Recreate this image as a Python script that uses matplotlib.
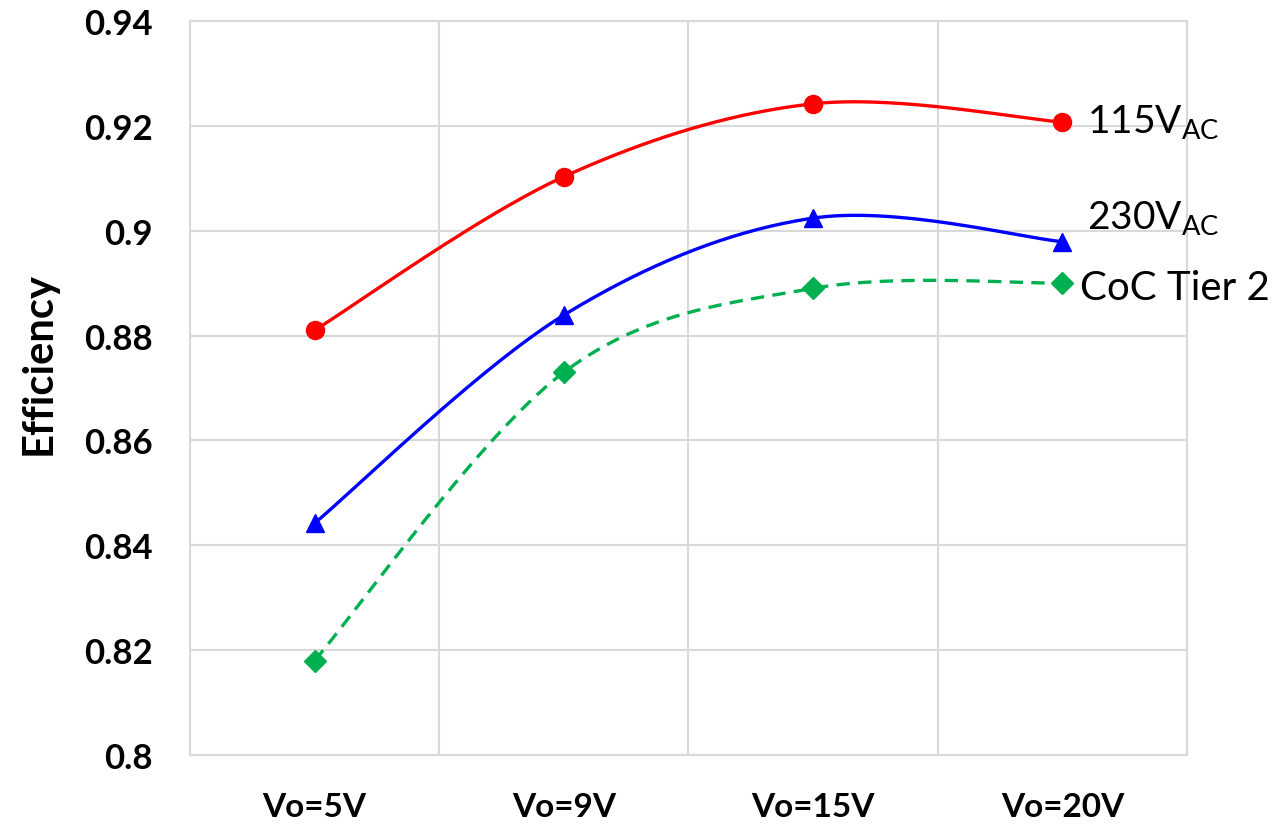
import numpy as np
import matplotlib
matplotlib.use('Agg')
import matplotlib.pyplot as plt

plt.rcParams['font.family'] = ['Lato', 'DejaVu Sans']
plt.rcParams['mathtext.fontset'] = 'custom'
plt.rcParams['mathtext.rm'] = 'Lato'

categories = ['Vo=5V', 'Vo=9V', 'Vo=15V', 'Vo=20V']
eff_115 = [0.881, 0.9103, 0.9242, 0.9207]
eff_230 = [0.8442, 0.8839, 0.9024, 0.8979]
coc_tier2 = [0.818, 0.873, 0.889, 0.890]
yticks = [0.8, 0.82, 0.84, 0.86, 0.88, 0.9, 0.92, 0.94]
ytick_labels = ['0.8', '0.82', '0.84', '0.86', '0.88', '0.9', '0.92', '0.94']


def smooth(xs, ys, n=60):
    # excel-like smoothed line (catmull-rom as cubic bezier)
    p = np.column_stack([xs, ys]).astype(float)
    p = np.vstack([p[0], p, p[-1]])
    out = []
    t = np.linspace(0, 1, n)[:, None]
    for i in range(1, len(p) - 2):
        p0, p1, p2, p3 = p[i - 1], p[i], p[i + 1], p[i + 2]
        c1 = p1 + (p2 - p0) / 6
        c2 = p2 - (p3 - p1) / 6
        seg = ((1 - t) ** 3) * p1 + 3 * ((1 - t) ** 2) * t * c1 + 3 * (1 - t) * t ** 2 * c2 + t ** 3 * p2
        out.append(seg)
    out = np.vstack(out)
    return out[:, 0], out[:, 1]


fig = plt.figure(figsize=(12.81, 8.29), dpi=100)
ax = fig.add_axes([0.1483, 0.0881, 0.7783, 0.8854])

x = np.arange(len(categories))
series = [
    (eff_115, '#FF0000', 'o', 13, '-'),
    (eff_230, '#0000FF', '^', 13, '-'),
    (coc_tier2, '#00B050', 'D', 11, '--'),
]
for vals, col, mk, ms, ls in series:
    sx, sy = smooth(x, vals)
    ax.plot(sx, sy, color=col, lw=2.4, ls=ls, dashes=(4, 2.5) if ls == '--' else (None, None), zorder=3)
    ax.plot(x, vals, ls='none', marker=mk, ms=ms, color=col, mec=col, zorder=4, clip_on=False)

ax.set_xlim(-0.5, 3.5)
ax.set_ylim(0.8, 0.94)
ax.set_yticks(yticks)
ax.set_yticklabels(ytick_labels, fontsize=25, fontweight='bold')
ax.set_xticks(x)
ax.set_xticklabels(categories, fontsize=24, fontweight='bold')
ax.set_xticks(np.arange(-0.5, 3.6, 0.5), minor=True)
ax.tick_params(axis='both', which='both', length=0)
ax.tick_params(axis='y', pad=27)
ax.tick_params(axis='x', pad=27)
ax.grid(True, which='minor', axis='x', color='#D9D9D9', lw=1.5)
ax.grid(True, which='major', axis='y', color='#D9D9D9', lw=1.5)
ax.set_axisbelow(True)
for s in ax.spines.values():
    s.set_color('#D9D9D9')
    s.set_linewidth(1.5)

ax.set_ylabel('Efficiency', fontsize=30, fontweight='bold')
ax.yaxis.set_label_coords(-0.133, 0.535)

ax.text(3.1, eff_115[3], r'115V$_{\mathrm{AC}}$', fontsize=28, va='center', ha='left')
ax.text(3.1, eff_230[3] + 0.0045, r'230V$_{\mathrm{AC}}$', fontsize=28, va='center', ha='left')
ax.text(3.07, coc_tier2[3] - 0.0008, 'CoC Tier 2', fontsize=29, va='center', ha='left')

fig.savefig('out.png', dpi=100)
